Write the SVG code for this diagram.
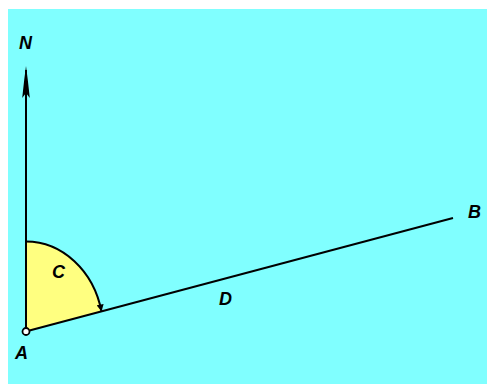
<svg xmlns="http://www.w3.org/2000/svg" width="487" height="384" viewBox="0 0 487 384">
<style>
.ln{stroke:#000;stroke-width:2;fill:none}
.lb{font-family:"Liberation Sans",Arial,sans-serif;font-weight:bold;font-style:italic;font-size:18px;fill:#000}
</style>
<defs>
<marker id="ah" viewBox="0 0 10 10" refX="10" refY="5" markerWidth="9" markerHeight="7" markerUnits="userSpaceOnUse" orient="auto">
<path d="M0,0 L10,5 L0,10 z" fill="#000"/>
</marker>
</defs>
<rect x="8" y="9" width="479" height="375" fill="#80FFFF"/>
<g id="angle-C">
<path d="M26,331.5 L26,241.5 A77.5,89.5 0 0 1 101.5,311.5 Z" fill="#FFFF80" stroke="none"/>
<path class="ln" d="M26,241.5 A77.5,89.5 0 0 1 101.5,311.5" stroke-width="1.3" marker-end="url(#ah)"/>
<text class="lb" x="52" y="278">C</text>
</g>
<g id="connectors">
<line class="ln" x1="26" y1="328" x2="26" y2="70"/>
<polygon points="26,66 27.8,80 29.8,98 26,93 22.2,98 24.2,80" fill="#000"/>
<line class="ln" x1="29.5" y1="330.5" x2="453" y2="218"/>
<text class="lb" x="219" y="305">D</text>
</g>
<g id="node-A">
<circle cx="26" cy="331.5" r="3.5" fill="#FFFFFF" stroke="#000" stroke-width="1.8"/>
<text class="lb" x="15" y="359">A</text>
</g>
<g id="node-N">
<text class="lb" x="19" y="48.5">N</text>
</g>
<g id="node-B">
<text class="lb" x="468" y="217.5">B</text>
</g>
</svg>
